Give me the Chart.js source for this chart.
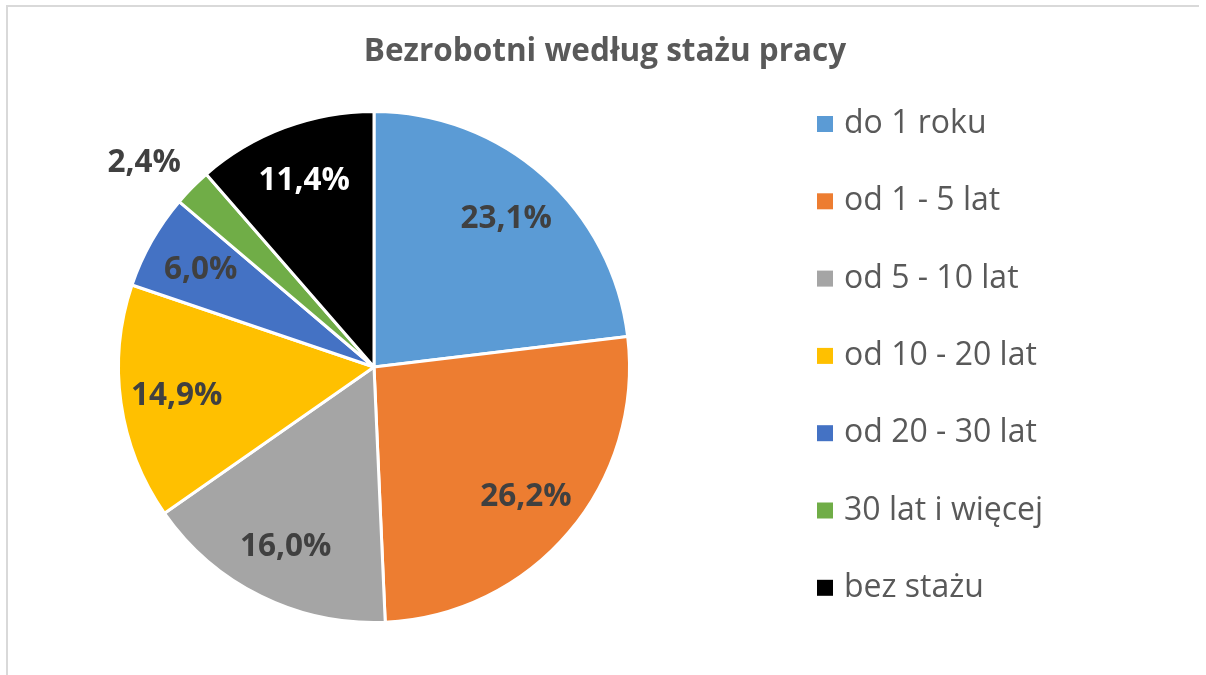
<!DOCTYPE html>
<html lang="pl">
<head>
<meta charset="utf-8">
<title>Bezrobotni według stażu pracy</title>
<script src="https://cdn.jsdelivr.net/npm/chart.js@4/dist/chart.umd.min.js"></script>
<style>
  html, body { margin: 0; padding: 0; background: #fff; overflow: hidden; }
  #wrap { position: relative; width: 1206px; height: 675px; }
  #frame { position: absolute; left: 6px; top: 5px; width: 1191px; height: 700px;
           border-left: 2px solid #d9d9d9; border-top: 2px solid #d9d9d9; }
  #chart { position: absolute; left: 0; top: 0; }
</style>
</head>
<body>
<div id="wrap">
  <div id="frame"></div>
  <canvas id="chart" width="1206" height="675"></canvas>
</div>
<script>
const chartTitle = 'Bezrobotni według stażu pracy';
const categories = ['do 1 roku', 'od 1 - 5 lat', 'od 5 - 10 lat', 'od 10 - 20 lat', 'od 20 - 30 lat', '30 lat i więcej', 'bez stażu'];
const shares = [23.1, 26.2, 16.0, 14.9, 6.0, 2.4, 11.4];
const sliceColors = ['#5b9bd5', '#ed7d31', '#a5a5a5', '#ffc000', '#4472c4', '#70ad47', '#000000'];

const FONT = '"Open Sans", "DejaVu Sans", sans-serif';
const TEXT_GREY = '#595959';

function fmt(v) {
    return v.toFixed(1).replace('.', ',') + '%';
}

// title drawn at the top, centred over the whole picture
const headerPlugin = {
    id: 'header',
    afterDraw(chart) {
        const ctx = chart.ctx;
        ctx.save();
        ctx.font = 'bold 31.5px ' + FONT;
        ctx.fillStyle = TEXT_GREY;
        ctx.textAlign = 'center';
        ctx.textBaseline = 'alphabetic';
        ctx.fillText(chartTitle, 605, 61);
        ctx.restore();
    }
};

// legend on the right, one item per row
const sideLegend = {
    id: 'sideLegend',
    afterDraw(chart) {
        const ctx = chart.ctx;
        const colors = chart.data.datasets[0].backgroundColor;
        ctx.save();
        ctx.font = '32px ' + FONT;
        ctx.textAlign = 'left';
        ctx.textBaseline = 'alphabetic';
        chart.data.labels.forEach((label, i) => {
            const base = 133 + i * 77.3;
            ctx.fillStyle = colors[i];
            ctx.fillRect(817, base - 17, 16, 16);
            ctx.fillStyle = TEXT_GREY;
            ctx.fillText(label, 844, base);
        });
        ctx.restore();
    }
};

// percentage labels inside the slices (small ones go outside)
const sliceLabels = {
    id: 'sliceLabels',
    afterDatasetsDraw(chart) {
        const ctx = chart.ctx;
        const meta = chart.getDatasetMeta(0);
        const values = chart.data.datasets[0].data;
        const colors = chart.data.datasets[0].backgroundColor;
        ctx.save();
        ctx.font = 'bold 31.5px ' + FONT;
        ctx.textAlign = 'center';
        ctx.textBaseline = 'middle';
        meta.data.forEach((arc, i) => {
            const p = arc.getProps(['x', 'y', 'startAngle', 'endAngle', 'outerRadius'], true);
            const mid = (p.startAngle + p.endAngle) / 2;
            const c = Math.cos(mid), s = Math.sin(mid);
            const text = fmt(values[i]);
            let x, y;
            if (values[i] < 3) {
                const w = ctx.measureText(text).width;
                const ax = p.x + c * (p.outerRadius + 16);
                const ay = p.y + s * (p.outerRadius + 16);
                x = ax + Math.sign(c) * w / 2;
                y = ay + Math.sign(s) * 14;
                ctx.fillStyle = '#404040';
            } else {
                x = p.x + c * p.outerRadius * 0.78;
                y = p.y + s * p.outerRadius * 0.78;
                ctx.fillStyle = colors[i] === '#000000' ? '#ffffff' : '#404040';
            }
            ctx.fillText(text, x, y + 1);
        });
        ctx.restore();
    }
};

const ctx = document.getElementById('chart').getContext('2d');
const pieChart = new Chart(ctx, {
    type: 'pie',
    data: {
        labels: categories,
        datasets: [{
            data: shares,
            backgroundColor: sliceColors,
            borderColor: '#ffffff',
            borderWidth: 3
        }]
    },
    options: {
        responsive: false,
        animation: false,
        devicePixelRatio: 1,
        layout: {
            padding: { left: 117, right: 575, top: 110, bottom: 51 }
        },
        plugins: {
            legend: { display: false },
            title: { display: false },
            tooltip: { enabled: false }
        }
    },
    plugins: [headerPlugin, sideLegend, sliceLabels]
});
</script>
</body>
</html>
